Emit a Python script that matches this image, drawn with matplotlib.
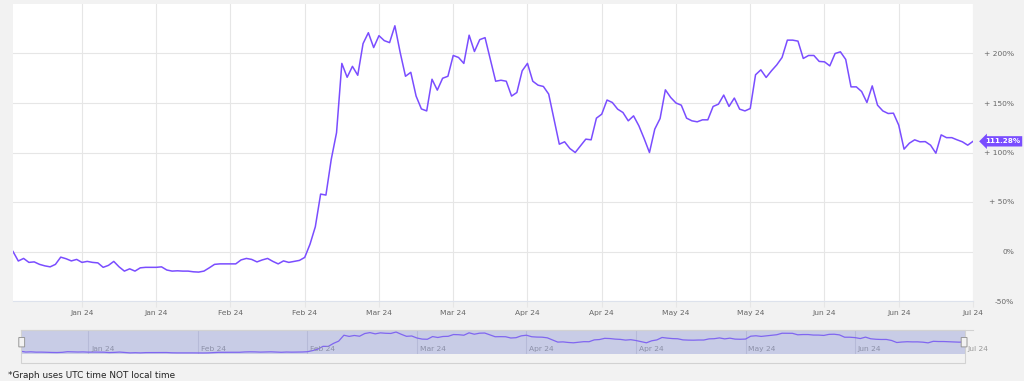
import matplotlib
matplotlib.use("Agg")
import matplotlib.pyplot as plt
import matplotlib.transforms as mtransforms
from matplotlib.patches import Rectangle, FancyBboxPatch
from matplotlib.lines import Line2D
import pandas as pd

# ---------------- data ----------------
start_date = "2024-01-02"
values = [
    0, -9.6, -7, -11, -10.5, -13, -14.5, -15.5, -13, -5.7,
    -7.3, -9.5, -8, -11, -10, -11, -11.5, -16, -14, -10,
    -15.5, -19.8, -17.5, -19.8, -16.5, -16, -16, -16, -15.5, -18.7,
    -19.8, -19.5, -19.8, -19.8, -20.5, -20.8, -19.8, -16.5, -13, -12.5,
    -12.5, -12.5, -12.5, -8.5, -7, -8, -10.5, -8.5, -7, -10,
    -12.5, -9.5, -11, -10, -9, -6,
    7.4, 25, 58, 57, 93, 120, 190, 176, 187, 178,
    210, 221, 206, 218, 213, 211, 228, 201, 177, 181,
    157, 144, 142, 174, 163, 175, 177, 198, 196, 190,
    218.5, 202, 214, 216, 194, 172, 173, 172, 157, 160.6,
    182.5, 190, 172, 168, 166.7, 159, 133.7, 108.4, 110.8, 104,
    100, 106.7, 113.5, 112.8, 134.7, 138.7, 153, 150.5, 143.8, 140.4,
    132, 137, 127, 114, 100, 123.6, 134.3, 163.3, 155.6, 150,
    147.8, 134.7, 132, 131, 133, 133, 146.5, 148.8, 158, 146.5,
    155, 143.8, 142, 144.4, 178.5, 183.5, 175.8, 182.5, 188.5, 196,
    213.5, 213.5, 212.5, 195, 198, 198, 192, 191.6, 187.5, 200,
    201.7, 194, 166.3, 166.3, 161.6, 150.5, 167.3, 147.8, 142, 139.4,
    139.7, 127.6, 103.4, 109.4, 112.8, 110.8, 111, 107.4, 99.3, 117.8,
    115, 115, 112.8, 110.8, 107.4, 111.28,
]
dates = pd.date_range(start_date, periods=len(values), freq="D")

main_ticks = pd.date_range("2024-01-15", "2024-07-01", freq="14D")
main_tick_labels = [d.strftime("%b %y") for d in main_ticks]
nav_ticks = pd.date_range("2024-01-15", "2024-07-01", freq="21D")
nav_tick_labels = [d.strftime("%b %y") for d in nav_ticks]
y_ticks = [-50, 0, 50, 100, 150, 200]
y_tick_labels = ["-50%", "0%", "+ 50%", "+ 100%", "+ 150%", "+ 200%"]
last_label = "111.28%"

# ---------------- style ----------------
LINE = "#7a4dff"
BG = "#f2f2f2"
GRID = "#e6e6e6"
W, H = 1024, 381


def rect(l, t, r, b):
    return [l / W, 1 - b / H, (r - l) / W, (b - t) / H]


fig = plt.figure(figsize=(W / 100, H / 100), dpi=100, facecolor=BG)

# ---------------- main chart ----------------
ax = fig.add_axes(rect(13, 4, 973, 301))
ax.set_facecolor("white")
ax.plot(dates, values, color=LINE, lw=1.1, solid_joinstyle="round", zorder=3)
ax.set_xlim(dates[0], dates[-1])
ax.set_ylim(-50, 250)
ax.set_xticks(main_ticks)
ax.set_xticklabels(main_tick_labels)
ax.set_yticks(y_ticks)
ax.set_yticklabels(y_tick_labels)
ax.yaxis.tick_right()
ax.tick_params(axis="y", length=0, pad=29.5, labelsize=5.4, labelcolor="#666666")
for lbl in ax.get_yticklabels():
    lbl.set_horizontalalignment("right")
ax.tick_params(axis="x", length=4, width=0.8, color=GRID, pad=2.5,
               labelsize=5.4, labelcolor="#666666")
ax.grid(True, color=GRID, lw=0.8, zorder=0)
for s in ["top", "right", "left"]:
    ax.spines[s].set_visible(False)
ax.spines["bottom"].set_color("#dde2ec")
ax.spines["bottom"].set_linewidth(0.8)

# last value label
trans = mtransforms.blended_transform_factory(fig.transFigure, ax.transData)
ax.text(1002.5 / W, values[-1], last_label, transform=trans, ha="center", va="center",
        fontsize=5.2, color="white", fontweight="bold", zorder=10,
        bbox=dict(boxstyle="larrow,pad=0.3", facecolor=LINE, edgecolor="none"))

# ---------------- navigator ----------------
nav = fig.add_axes(rect(20.5, 330, 964.6, 354))
nav.set_facecolor("#c8cce6")
nav.plot(dates, values, color="#8066f0", lw=0.9, zorder=3)
nav.set_xlim(dates[0], dates[-1])
nav.set_ylim(-33, 252)
nav.set_xticks(nav_ticks)
nav.set_xticklabels([])
nav.set_yticks([])
nav.tick_params(axis="x", length=0)
nav.grid(True, axis="x", color="#b6bad8", lw=0.8, zorder=0)
for s in nav.spines.values():
    s.set_visible(False)
for t, lab in zip(nav_ticks, nav_tick_labels):
    col = "#8c90a8" if t < dates[-1] else "#999999"
    nav.annotate(lab, xy=(t, 0), xycoords=("data", "axes fraction"),
                 xytext=(2, 1.5), textcoords="offset points",
                 ha="left", va="bottom", fontsize=5.4, color=col,
                 annotation_clip=False)

# navigator outline / scrollbar area
fig.patches.append(Rectangle((20.5 / W, 1 - 363 / H), (964.6 - 20.5) / W, (363 - 330) / H,
                             fill=False, edgecolor="#d2d2d2", lw=0.8,
                             transform=fig.transFigure, figure=fig))
fig.lines.append(Line2D([20.5 / W, 973 / W], [1 - 330 / H, 1 - 330 / H],
                        color="#d2d2d2", lw=0.8, transform=fig.transFigure, figure=fig))
for hx in (19.3, 961.7):
    fig.patches.append(FancyBboxPatch((hx / W, 1 - 346.7 / H), 4.8 / W, 9 / H,
                                      boxstyle="round,pad=0.0005",
                                      facecolor="#f2f2f2", edgecolor="#999999", lw=0.7,
                                      transform=fig.transFigure, figure=fig, zorder=5))

# footnote
fig.text(8 / W, 1 - 380.5 / H, "*Graph uses UTC time NOT local time",
         fontsize=6.4, va="bottom", ha="left", color="#222222")

fig.savefig("out.png", dpi=100, facecolor=BG)
